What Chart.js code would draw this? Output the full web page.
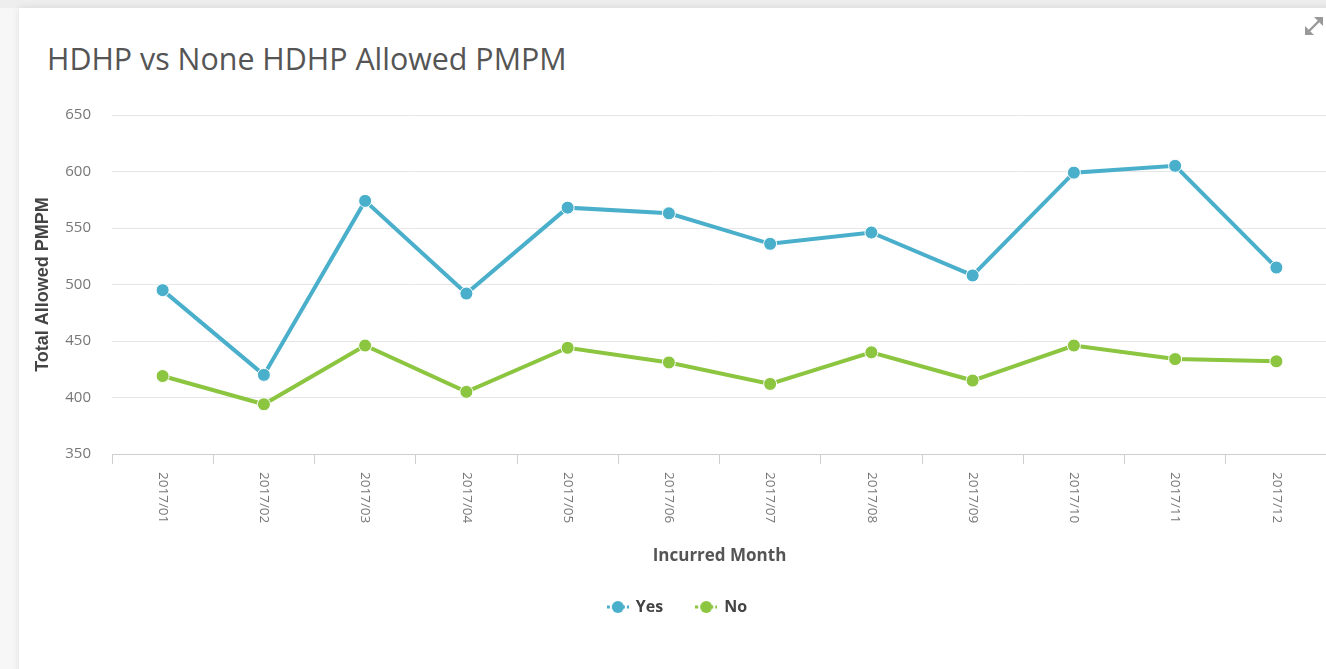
<!DOCTYPE html>
<html>
<head>
<meta charset="utf-8">
<script src="https://cdn.jsdelivr.net/npm/chart.js@4/dist/chart.umd.min.js"></script>
<style>
  html, body { margin: 0; padding: 0; background: #f7f7f7; width: 1326px; height: 669px; overflow: hidden; }
  .card { position: absolute; left: 19px; top: 8px; width: 1320px; height: 680px; background: #fff;
          box-shadow: 0 0 8px rgba(0,0,0,0.10); }
  .topband { position: absolute; left: 0; top: 0; width: 1326px; height: 8px; background: #eeeeee; }
  .title { position: absolute; left: 47px; top: 38px; font-family: "Open Sans", sans-serif; font-size: 30.4px;
           color: #555; font-weight: 400; white-space: nowrap; }
  .expand { position: absolute; left: 1302px; top: 14px; }
  .wrap { position: absolute; left: 20px; top: 85px; width: 1315px; height: 550px; }
</style>
</head>
<body>
<div class="topband"></div>
<div class="card"></div>
<div class="title">HDHP vs None HDHP Allowed PMPM</div>
<div class="wrap"><canvas id="grafico"></canvas></div>
<svg class="expand" width="24" height="24" viewBox="0 0 24 24">
  <g fill="#999" stroke="#999" stroke-width="2.4" stroke-linecap="round">
    <line x1="6" y1="18" x2="18" y2="6"/>
    <polygon points="12,3 21,3 21,12" stroke-width="0"/>
    <polygon points="3,12 3,21 12,21" stroke-width="0"/>
  </g>
</svg>
<script>
// dados do gráfico
const meses = ['2017/01', '2017/02', '2017/03', '2017/04', '2017/05', '2017/06',
               '2017/07', '2017/08', '2017/09', '2017/10', '2017/11', '2017/12'];
const valoresYes = [495, 420, 574, 492, 568, 563, 536, 546, 508, 599, 605, 515];
const valoresNo = [419, 394, 446, 405, 444, 431, 412, 440, 415, 446, 434, 432];
const ticksY = [350, 400, 450, 500, 550, 600, 650];

const corYes = '#4aafcb';
const corNo = '#8cc540';

// marcador da legenda: linha curta com bolinha no meio
function marcador(cor) {
    const c = document.createElement('canvas');
    c.width = 22; c.height = 14;
    const g = c.getContext('2d');
    g.strokeStyle = cor;
    g.lineWidth = 3;
    g.setLineDash([3, 2]);
    g.beginPath(); g.moveTo(0, 7); g.lineTo(22, 7); g.stroke();
    g.fillStyle = cor;
    g.beginPath(); g.arc(11, 7, 6, 0, Math.PI * 2); g.fill();
    return c;
}

// rótulos do eixo X girados no sentido horário
const rotulosX = {
    id: 'rotulosX',
    afterDraw(chart) {
        const x = chart.scales.x;
        const ctx = chart.ctx;
        ctx.save();
        ctx.fillStyle = '#777';
        ctx.font = '13.5px "Open Sans", sans-serif';
        ctx.textAlign = 'left';
        ctx.textBaseline = 'middle';
        x.ticks.forEach((t, i) => {
            ctx.save();
            ctx.translate(x.getPixelForTick(i), x.top + 18);
            ctx.rotate(Math.PI / 2);
            ctx.fillText(meses[i], 0, 0);
            ctx.restore();
        });
        ctx.restore();
    }
};

const ctx = document.getElementById('grafico').getContext('2d');

new Chart(ctx, {
    type: 'line',
    data: {
        labels: meses,
        datasets: [{
            label: 'Yes',
            data: valoresYes,
            borderColor: corYes,
            backgroundColor: corYes,
            borderWidth: 4,
            pointRadius: 6.5,
            pointBorderColor: '#fff',
            pointBorderWidth: 1,
            pointHoverRadius: 7,
            tension: 0
        }, {
            label: 'No',
            data: valoresNo,
            borderColor: corNo,
            backgroundColor: corNo,
            borderWidth: 4,
            pointRadius: 6.5,
            pointBorderColor: '#fff',
            pointBorderWidth: 1,
            pointHoverRadius: 7,
            tension: 0
        }]
    },
    options: {
        responsive: true,
        maintainAspectRatio: false,
        animation: false,
        layout: { padding: { top: 14, right: 0, bottom: 10, left: 0 } },
        plugins: {
            legend: {
                position: 'bottom',
                labels: {
                    usePointStyle: true,
                    pointStyleWidth: 20,
                    padding: 33,
                    color: '#444',
                    font: { family: 'Open Sans', size: 16, weight: 'bold' },
                    generateLabels(chart) {
                        const itens = Chart.defaults.plugins.legend.labels.generateLabels(chart);
                        itens.forEach((it, i) => {
                            it.pointStyle = marcador(chart.data.datasets[i].borderColor);
                        });
                        return itens;
                    }
                }
            },
            tooltip: { enabled: false }
        },
        scales: {
            x: {
                offset: true,
                grid: {
                    offset: true,
                    drawOnChartArea: false,
                    drawTicks: true,
                    tickLength: 10,
                    color: '#cfcfcf'
                },
                border: { display: true, color: '#cfcfcf' },
                ticks: {
                    color: 'transparent',
                    autoSkip: false,
                    minRotation: 90,
                    maxRotation: 90,
                    padding: 0,
                    font: { family: 'Open Sans', size: 1 }
                },
                title: {
                    display: true,
                    text: 'Incurred Month',
                    color: '#555',
                    font: { family: 'Open Sans', size: 17, weight: 'bold' },
                    padding: { top: 0, bottom: 0 }
                },
                afterFit(s) { s.height = 112; }
            },
            y: {
                min: 350,
                max: 650,
                afterBuildTicks(s) { s.ticks = ticksY.map(v => ({ value: v })); },
                grid: { color: '#e6e6e6', drawTicks: false },
                border: { display: false },
                ticks: {
                    color: '#777',
                    padding: 21,
                    font: { family: 'Open Sans', size: 15 }
                },
                title: {
                    display: true,
                    text: 'Total Allowed PMPM',
                    color: '#444',
                    font: { family: 'Liberation Sans', size: 18, weight: 'bold' },
                    padding: { top: 12, bottom: 0 }
                },
                afterFit(s) { s.width = 92; }
            }
        }
    },
    plugins: [rotulosX]
});
</script>
</body>
</html>
